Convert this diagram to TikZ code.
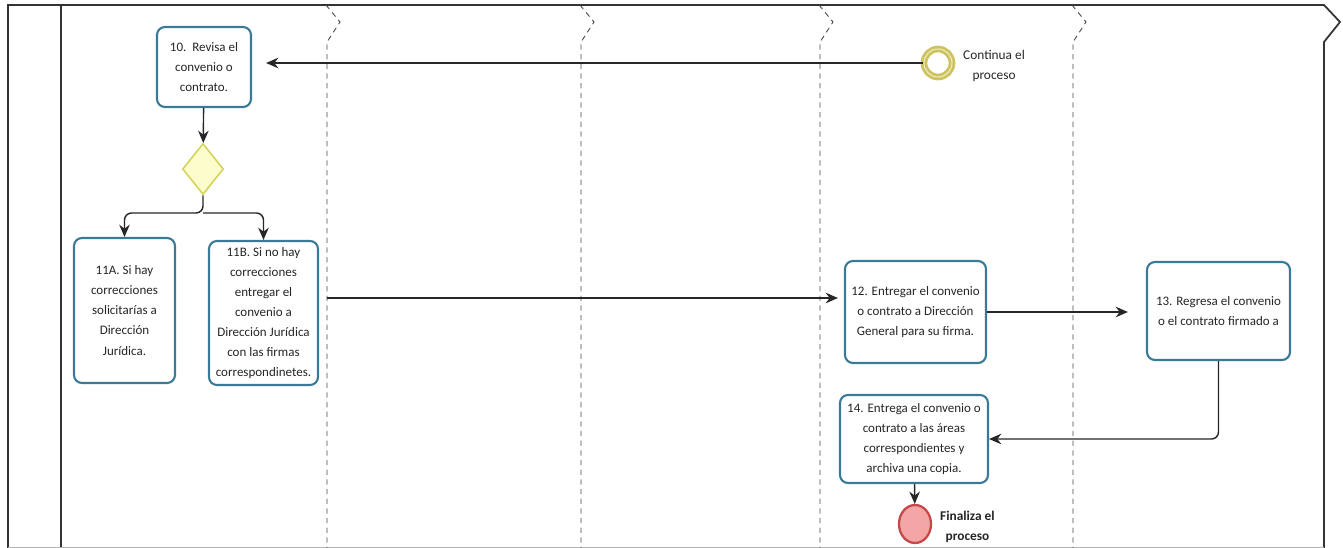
\documentclass[tikz,border=0pt]{standalone}
\usepackage{fontspec}
\setmainfont{Carlito}
\usetikzlibrary{arrows.meta,shapes.geometric}
\definecolor{taskline}{RGB}{58,122,150}
\definecolor{gwfill}{RGB}{252,252,205}
\definecolor{gwline}{RGB}{212,212,90}
\definecolor{startline}{RGB}{205,195,100}
\definecolor{startring}{RGB}{240,236,185}
\definecolor{endfill}{RGB}{244,166,166}
\definecolor{endline}{RGB}{198,72,72}
\definecolor{lanegray}{RGB}{70,70,70}
\begin{document}
\begin{tikzpicture}[x=0.02cm, y=-0.02cm,
	task/.style={draw=taskline, line width=1.2pt, rounded corners=4.5pt, fill=white,
		align=center, text=black!85, inner sep=1pt, font=\fontsize{7.4}{11.4}\selectfont},
	gateway/.style={diamond, draw=gwline, fill=gwfill, line width=0.9pt, inner sep=0pt,
		minimum width=0.82cm, minimum height=1.02cm},
	startev/.style={circle, draw=startline, line width=1.6pt, double=startring,
		double distance=0.6pt, fill=white, minimum size=0.56cm, inner sep=0pt},
	endev/.style={ellipse, draw=endline, fill=endfill, line width=1.3pt,
		minimum width=0.64cm, minimum height=0.76cm, inner sep=0pt},
	evlabel/.style={align=center, anchor=west, text=black!85, font=\fontsize{7.6}{11.4}\selectfont},
	flow/.style={-{Stealth[length=7pt, width=6pt]}, line width=0.8pt, black!85},
	lane/.style={lanegray, line width=0.5pt, dash pattern=on 3pt off 2.5pt}]

	\useasboundingbox (0,0) rectangle (1343,548);

	% pool frame and lanes
	\draw[black!80, line width=1pt] (8,548) -- (8,5) -- (1324,5) -- (1340,22) -- (1324,42) -- (1324,548);
	\draw[black!80, line width=0.9pt] (61,5) -- (61,548);
	\draw[black!30, line width=0.5pt] (8,547) -- (1324,547);
	\foreach \x in {326,580,819,1072} {
		\draw[lane] (\x,5) -- (\x+14,22) -- (\x+1,42) -- (\x+1,548);
	}

	% tasks
	\node[task, minimum width=1.88cm, minimum height=1.6cm] (t10) at (204,67) {10.\ \ Revisa el\\convenio o\\contrato.};
	\node[gateway] (gw) at (203,169) {};
	\node[task, minimum width=2.02cm, minimum height=2.9cm] (t11a) at (124.5,310.5) {11A. Si hay\\correcciones\\solicitarías a\\Dirección\\Jurídica.};
	\node[task, minimum width=2.18cm, minimum height=2.88cm] (t11b) at (263.5,313) {11B. Si no hay\\correcciones\\entregar el\\convenio a\\Dirección Jurídica\\con las firmas\\correspondinetes.};
	\node[task, minimum width=2.82cm, minimum height=2.04cm] (t12) at (915.5,312) {12. Entregar el convenio\\o contrato a Dirección\\General para su firma.};
	\node[task, minimum width=2.86cm, minimum height=1.96cm] (t13) at (1218.5,311) {13. Regresa el convenio\\o el contrato firmado a};
	\node[task, minimum width=2.96cm, minimum height=1.76cm] (t14) at (914,439) {14. Entrega el convenio o\\contrato a las áreas\\correspondientes y\\archiva una copia.};

	% events
	\node[startev] (start) at (938,63) {};
	\node[evlabel] (startlbl) at (957,66) {Continua el\\proceso};
	\node[endev] (end) at (915,524) {};
	\node[evlabel, font=\fontsize{7.6}{11.4}\selectfont\bfseries] (endlbl) at (934,527) {Finaliza el\\proceso};

	% flows
	\coordinate (split) at (203,213);
	\draw[flow, shorten >=0.28cm] (start) -- (start -| t10.east);
	\draw[flow] (t10) -- (gw);
	\draw[flow, rounded corners=4pt] (gw.south) -- (split) -| (t11a.north);
	\draw[flow, rounded corners=4pt] (split) -| (t11b.north);
	\draw[flow, shorten <=0.16cm, shorten >=0.12cm] ([yshift=0.3cm]t11b.east) -- ([yshift=0.3cm]t11b.east -| t12.west);
	\draw[flow, shorten >=0.36cm] (t12) -- (t12 -| t13.west);
	\draw[flow, rounded corners=4pt] (t13.south) |- (t14.east);
	\draw[flow] (t14) -- (end);
\end{tikzpicture}
\end{document}
